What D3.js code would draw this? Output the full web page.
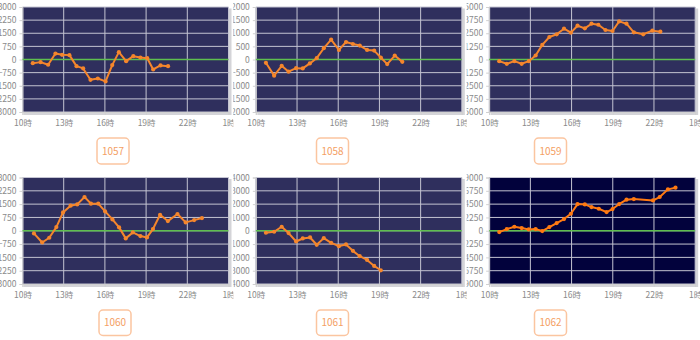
<!DOCTYPE html>
<html><head><meta charset="utf-8">
<script src="https://cdn.jsdelivr.net/npm/d3@7"></script>
<style>html,body{margin:0;padding:0;background:#fff;}svg{display:block;}</style>
</head><body>
<svg id="chart" width="700" height="340"></svg>
<script>
// ---- data ----
const panelIds = ["1057", "1058", "1059", "1060", "1061", "1062"];
const yMaxes = [3000, 2000, 5000, 3000, 4000, 9000];
const yStepsList = [750, 500, 1250, 750, 1000, 2250];
const xTickHours = [10, 13, 16, 19, 22, 25];
const xTickLabels = ["10時", "13時", "16時", "19時", "22時", "1時"];

const times1057 = ["10:45","11:19","11:52","12:24","12:53","13:25","13:56","14:25","14:57","15:29","16:03","16:32","17:01","17:33","18:04","18:35","19:05","19:31","20:03","20:36"];
const values1057 = [-210,-150,-300,340,270,250,-380,-510,-1160,-1085,-1250,-320,420,-95,190,115,75,-570,-340,-380];

const times1058 = ["10:44","11:20","11:53","12:23","12:56","13:25","13:56","14:26","14:57","15:29","16:03","16:34","17:04","17:34","18:06","18:37","19:06","19:34","20:07","20:40"];
const values1058 = [-125,-615,-240,-465,-330,-340,-150,50,430,755,365,665,590,530,365,340,75,-175,150,-90];

const times1059 = ["10:44","11:17","11:50","12:22","12:53","13:23","13:52","14:23","14:55","15:27","15:57","16:26","16:58","17:27","17:57","18:28","18:59","19:28","20:00","20:32","21:13","21:53","22:28"];
const values1059 = [-160,-410,-160,-410,-160,380,1390,2145,2400,2935,2555,3220,2965,3410,3310,2810,2715,3630,3410,2590,2400,2745,2650];

const times1060 = ["10:50","11:26","11:57","12:28","12:57","13:30","13:59","14:31","14:59","15:31","16:01","16:33","17:02","17:31","18:02","18:35","19:04","19:30","20:01","20:35","21:17","21:53","22:30","23:04"];
const values1060 = [-150,-660,-395,205,1035,1410,1485,1900,1525,1525,1090,640,190,-430,-95,-300,-375,95,900,545,940,470,600,715];

const times1061 = ["10:44","11:20","11:53","12:23","12:56","13:25","13:57","14:26","14:57","15:29","16:03","16:34","17:04","17:34","18:06","18:37","19:06"];
const values1061 = [-150,-75,300,-175,-805,-580,-505,-1055,-555,-905,-1155,-1030,-1510,-1910,-2190,-2640,-2970];

const times1062 = ["10:44","11:17","11:50","12:22","12:53","13:23","13:52","14:23","14:55","15:27","15:57","16:26","16:58","17:27","17:59","18:33","18:59","19:28","20:00","20:32","21:56","22:25","23:01","23:34"];
const values1062 = [-225,280,675,450,225,280,-55,620,1300,1975,2875,4510,4455,4005,3720,3160,3665,4510,5245,5360,5130,5700,6995,7275];

const seriesTimes = [times1057, times1058, times1059, times1060, times1061, times1062];
const seriesValues = [values1057, values1058, values1059, values1060, values1061, values1062];

// ---- drawing ----
const svg = d3.select("#chart");
const colW = 700 / 3;
const rows = [{top: 7, bottom: 112, y0: 0, y1: 170, box: [138, 164]},
              {top: 177.5, bottom: 284, y0: 170, y1: 340, box: [310, 335.5]}];
const boxCenters = [113, 332.5, 550.5, 115, 332.5, 550.5];
const fontFam = "'Noto Sans CJK SC','Noto Sans',sans-serif";

function toHour(s) { const [h, m] = s.split(":").map(Number); return h + m / 60; }

const defs = svg.append("defs");

panelIds.forEach((id, i) => {
  const col = i % 3, r = rows[Math.floor(i / 3)];
  const cx0 = col * colW;
  defs.append("clipPath").attr("id", "clip" + i)
    .append("rect").attr("x", cx0).attr("y", r.y0).attr("width", colW).attr("height", r.y1 - r.y0);
  const g = svg.append("g").attr("clip-path", `url(#clip${i})`);

  const left = cx0 + 22.5, width = 206;
  const x = d3.scaleLinear().domain([10, 25]).range([left, left + width]);
  const yMax = yMaxes[i], step = yStepsList[i];
  const y = d3.scaleLinear().domain([-yMax, yMax]).range([r.bottom, r.top]);
  const yTicks = d3.range(-yMax, yMax + 0.1, step);

  // shadow
  g.append("rect").attr("x", left + 1.5).attr("y", r.top + 1.5)
    .attr("width", width + 1.5).attr("height", r.bottom - r.top + 1.5)
    .attr("fill", "#d4d4d8");
  // background
  g.append("rect").attr("x", left).attr("y", r.top)
    .attr("width", width).attr("height", r.bottom - r.top)
    .attr("fill", i === 5 ? "#02023c" : "#2f2f5d");

  // horizontal grid
  g.append("g").selectAll("line").data(yTicks).join("line")
    .attr("x1", left).attr("x2", left + width)
    .attr("y1", d => y(d)).attr("y2", d => y(d))
    .attr("stroke", "#c4c4d2").attr("stroke-width", 1);
  // vertical grid
  g.append("g").selectAll("line").data(xTickHours).join("line")
    .attr("x1", d => x(d)).attr("x2", d => x(d))
    .attr("y1", r.top).attr("y2", r.bottom)
    .attr("stroke", "#c4c4d2").attr("stroke-width", 1);

  // y axis
  const yAxis = d3.axisLeft(y).tickValues(yTicks).tickSize(3).tickPadding(3).tickFormat(d3.format("d"));
  const ya = g.append("g").attr("transform", `translate(${left},0)`).call(yAxis);
  ya.select(".domain").attr("stroke", "#d0d0d0");
  ya.selectAll(".tick line").attr("stroke", "#d0d0d0");
  ya.selectAll("text").attr("fill", "#8a8a8a").attr("font-size", "8.5px").attr("font-family", fontFam);

  // x axis
  const xAxis = d3.axisBottom(x).tickValues(xTickHours).tickSize(3).tickPadding(5)
    .tickFormat((d, k) => xTickLabels[k]);
  const xa = g.append("g").attr("transform", `translate(0,${r.bottom})`).call(xAxis);
  xa.select(".domain").attr("stroke", "#d0d0d0");
  xa.selectAll(".tick line").attr("stroke", "#d0d0d0");
  xa.selectAll("text").attr("fill", "#8a8a8a").attr("font-size", "8.5px").attr("font-family", fontFam);

  // zero line
  g.append("line").attr("x1", left).attr("x2", left + width)
    .attr("y1", y(0)).attr("y2", y(0))
    .attr("stroke", "#5fbf4f").attr("stroke-width", 1.6);

  // series
  const pts = seriesTimes[i].map((t, k) => [toHour(t), seriesValues[i][k]]);
  const lineColor = i === 5 ? "#ff7a12" : "#f5862c";
  g.append("path").datum(pts)
    .attr("d", d3.line().x(d => x(d[0])).y(d => y(d[1])))
    .attr("fill", "none").attr("stroke", lineColor).attr("stroke-width", 2)
    .attr("stroke-linejoin", "round");
  g.append("g").selectAll("circle").data(pts).join("circle")
    .attr("cx", d => x(d[0])).attr("cy", d => y(d[1])).attr("r", 2.1)
    .attr("fill", lineColor);

  // label box
  const bc = boxCenters[i], bw = 32;
  svg.append("rect").attr("x", bc - bw / 2).attr("y", r.box[0])
    .attr("width", bw).attr("height", r.box[1] - r.box[0]).attr("rx", 4)
    .attr("fill", "#fff").attr("stroke", "#fbc5a0").attr("stroke-width", 1.5);
  svg.append("text").attr("x", bc).attr("y", (r.box[0] + r.box[1]) / 2 + 3.5)
    .attr("text-anchor", "middle").attr("font-size", "10px").attr("font-family", fontFam)
    .attr("fill", "#f4a064").text(id);
});
</script>
</body></html>
